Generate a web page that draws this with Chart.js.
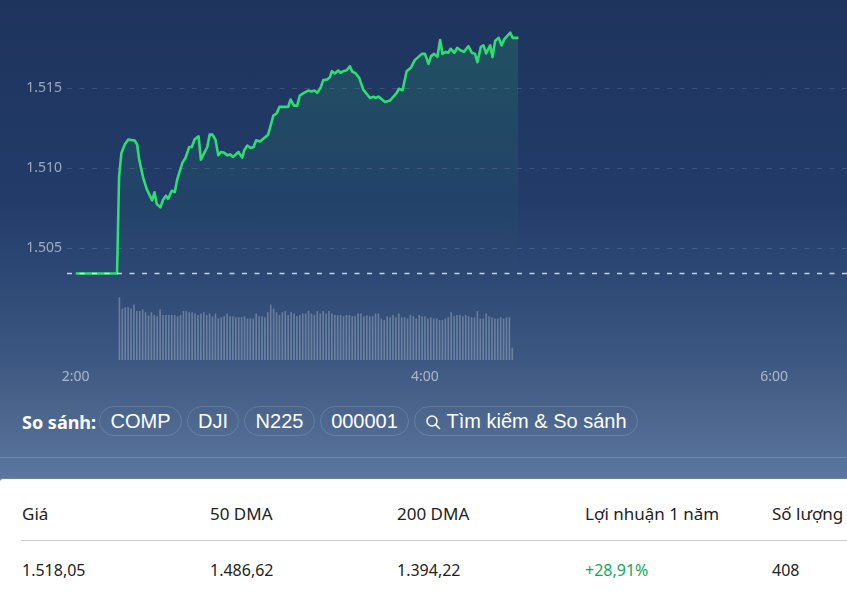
<!DOCTYPE html>
<html lang="vi">
<head>
<meta charset="utf-8">
<title>So sánh</title>
<script src="https://cdn.jsdelivr.net/npm/chart.js@4/dist/chart.umd.min.js"></script>
<style>
  html, body { margin: 0; padding: 0; }
  body {
    width: 847px; height: 593px; overflow: hidden; position: relative;
    background: linear-gradient(180deg, #1e345d 0, #223b69 200px, #3a5580 350px, #486289 400px, #5b76a0 480px);
    font-family: "Noto Sans", sans-serif;
  }
  #chartBox { position: absolute; left: 0; top: 0; width: 847px; height: 395px; }
  .compare { position: absolute; left: 22px; top: 406px; height: 30px; display: flex; align-items: center; color: #fff; }
  .compare b { font-size: 18px; font-weight: 700; width: 77px; position: relative; top: 1px; }
  .pill {
    box-sizing: border-box; height: 30px; line-height: 28px; border: 1px solid rgba(255,255,255,.14);
    border-radius: 15px; font: 20px/28px "Liberation Sans", Arial, sans-serif; color: #fff;
    text-align: center; margin-right: 5px; white-space: nowrap;
  }
  .pill svg { vertical-align: -2px; margin-right: 5px; }
  .sep { position: absolute; left: 0; right: 0; top: 457px; height: 1px; background: rgba(255,255,255,.18); }
  .card { position: absolute; left: 0; right: 0; top: 479px; bottom: 0; background: #fff; border-top-left-radius: 3px; box-shadow: 0 -1px 0 rgba(255,255,255,.12); }
  .rule { position: absolute; left: 21px; right: 0; top: 61px; height: 1px; background: #ccc; }
  .cell { position: absolute; font-size: 16px; color: #222; white-space: nowrap; line-height: 22px; }
  .head { top: 24px; font-size: 17px; }
  .val { top: 80px; }
  .up { color: #12a75a; }
</style>
</head>
<body>
<div id="chartBox"><canvas id="priceChart" width="847" height="395"></canvas></div>

<div class="compare">
  <b>So sánh:</b>
  <span class="pill" style="width:83px">COMP</span>
  <span class="pill" style="width:52px">DJI</span>
  <span class="pill" style="width:71px">N225</span>
  <span class="pill" style="width:89px">000001</span>
  <span class="pill" style="width:224px"><svg width="16" height="16" viewBox="0 0 16 16" fill="none" stroke="#fff" stroke-width="1.5"><circle cx="7" cy="7" r="5"/><path d="M10.6 10.6 15 15"/></svg>Tìm kiếm &amp; So sánh</span>
</div>
<div class="sep"></div>

<div class="card">
  <div class="cell head" style="left:22px">Giá</div>
  <div class="cell head" style="left:210px">50 DMA</div>
  <div class="cell head" style="left:397px">200 DMA</div>
  <div class="cell head" style="left:585px">Lợi nhuận 1 năm</div>
  <div class="cell head" style="left:772px">Số lượng</div>
  <div class="rule"></div>
  <div class="cell val" style="left:22px">1.518,05</div>
  <div class="cell val" style="left:210px">1.486,62</div>
  <div class="cell val" style="left:397px">1.394,22</div>
  <div class="cell val up" style="left:585px">+28,91%</div>
  <div class="cell val" style="left:772px">408</div>
</div>

<script>
// minutes after 2:00
const priceTimes = [0,14.2,14.9,15.7,16.85,18,20.3,21.1,21.8,23.2,24.5,26.25,27.05,27.85,29.1,30,31,31.75,33,34.05,34.85,36.7,37.7,39,39.9,40.8,42.2,43,45.2,46,47,48,49,49.9,50.9,52.2,53,54.1,55.9,57.2,57.9,58.9,60.1,61.1,62,63.3,66.1,67.9,69,70,73,73.8,75,76.1,77,78.4,79.9,81,82,83,84.1,85.05,86.4,87.35,88,89,90.2,91,91.9,93.1,94.2,95,96.2,97.4,98.8,101.1,102.25,103.2,104,106.25,108,110.3,111,112.3,113.7,115.1,116.5,118.9,120,121.2,122.1,123.1,124.25,125.2,126,127.1,128,128.8,130.1,131.1,132.3,133.4,134.9,136.1,137.2,138,139.2,140.1,141,142.4,143.2,144.1,145.35,146.3,147.2,149.3,150.15,152.1];
const prices = [1503.43,1503.43,1509.49,1510.95,1511.47,1511.78,1511.72,1511.47,1510.53,1509.38,1508.65,1507.99,1508.49,1507.76,1507.55,1508.03,1508.28,1508.09,1508.59,1508.51,1509.28,1510.36,1510.63,1511.32,1511.32,1511.78,1511.99,1510.53,1511.32,1512.09,1512.09,1511.78,1510.8,1511.01,1510.97,1510.8,1510.86,1510.7,1511.01,1510.66,1511.11,1511.41,1511.26,1511.32,1511.74,1511.66,1512.09,1513.28,1513.41,1513.82,1513.82,1514.28,1513.9,1513.9,1514.53,1514.7,1514.84,1514.78,1514.84,1514.7,1515.01,1515.49,1515.53,1515.68,1516.05,1515.91,1516.09,1515.95,1516.05,1516.11,1516.36,1516.03,1515.91,1515.63,1514.9,1514.38,1514.45,1514.38,1514.47,1514.13,1514.22,1514.7,1514.95,1514.86,1516.05,1516.26,1516.74,1517.13,1517.13,1516.51,1516.99,1517.13,1516.95,1517.99,1517.13,1517.26,1517.2,1517.45,1517.2,1517.51,1517.34,1517.26,1517.61,1517.2,1517.13,1516.61,1517.57,1517.66,1517.16,1517.66,1516.93,1517.93,1518.13,1517.66,1518.03,1518.45,1518.13,1518.13];

// one bar per minute, first bar at minute 15
const volumeStart = 15;
const volumes = [187,153,157,157,153,165,146,146,150,142,132,142,134,130,150,134,134,134,134,134,130,134,146,146,142,142,138,134,138,142,134,138,130,138,123,127,130,138,130,130,127,127,127,130,123,123,123,138,130,130,127,142,165,153,142,134,142,146,134,142,138,130,134,138,138,146,138,134,146,138,146,138,146,138,134,134,134,130,134,134,130,130,138,138,130,133,130,130,138,138,123,119,130,127,134,127,138,127,127,123,134,130,123,134,130,130,123,127,123,123,119,119,123,127,142,130,134,134,130,134,130,127,127,146,123,123,138,130,127,123,123,127,123,127,127,36];

const referencePrice = 1503.43;
const referenceTimes = [-3, 265];
const priceTicks = [1505, 1510, 1515];
const timeTicks = [0, 120, 240];
const timeLabels = { 0: "2:00", 120: "4:00", 240: "6:00" };

const tickColor = "rgba(255,255,255,.55)";
const tickFont = { family: "'Noto Sans', sans-serif", size: 14 };

function areaFill(context) {
  const { ctx, chartArea, scales } = context.chart;
  if (!chartArea) return "transparent";
  const g = ctx.createLinearGradient(0, 30, 0, scales.y.getPixelForValue(referencePrice));
  g.addColorStop(0, "rgba(45,221,112,.17)");
  g.addColorStop(1, "rgba(45,221,112,0)");
  return g;
}

new Chart(document.getElementById("priceChart"), {
  type: "line",
  data: {
    datasets: [
      {
        type: "line",
        data: referenceTimes.map(t => ({ x: t, y: referencePrice })),
        borderColor: "rgba(255,255,255,.75)",
        borderWidth: 1.5,
        borderDash: [5, 7.5],
        pointRadius: 0,
        order: 1
      },
      {
        type: "line",
        data: priceTimes.map((t, i) => ({ x: t, y: prices[i] })),
        borderColor: "#2ddf70",
        borderWidth: 2.6,
        borderJoinStyle: "round",
        tension: 0,
        pointRadius: 0,
        fill: { target: { value: referencePrice } },
        backgroundColor: areaFill,
        order: 2
      },
      {
        type: "bar",
        yAxisID: "vol",
        data: volumes.map((v, i) => ({ x: volumeStart + i, y: v })),
        backgroundColor: "rgba(255,255,255,.26)",
        barThickness: 1,
        order: 3
      }
    ]
  },
  options: {
    responsive: false,
    animation: false,
    layout: { padding: 0 },
    plugins: { legend: { display: false }, tooltip: { enabled: false } },
    scales: {
      x: {
        type: "linear",
        min: referenceTimes[0],
        max: referenceTimes[1],
        offset: false,
        grid: { display: false },
        border: { display: false },
        afterBuildTicks: s => { s.ticks = timeTicks.map(value => ({ value })); },
        afterFit: s => { s.height = 35; },
        ticks: {
          color: tickColor,
          font: tickFont,
          padding: 1,
          maxRotation: 0,
          autoSkip: false,
          callback: v => timeLabels[v]
        }
      },
      y: {
        min: 1498.03,
        max: 1519.655,
        grid: { color: "rgba(255,255,255,.13)", drawTicks: false },
        border: { display: false, dash: [5, 7.5] },
        afterBuildTicks: s => { s.ticks = priceTicks.map(value => ({ value })); },
        afterFit: s => { s.width = 67; },
        ticks: {
          color: tickColor,
          font: tickFont,
          padding: 5,
          callback: v => String(v).replace(/(\d)(\d{3})$/, "$1.$2")
        }
      },
      vol: {
        display: false,
        min: 0,
        max: 1038
      }
    }
  }
});
</script>
</body>
</html>
